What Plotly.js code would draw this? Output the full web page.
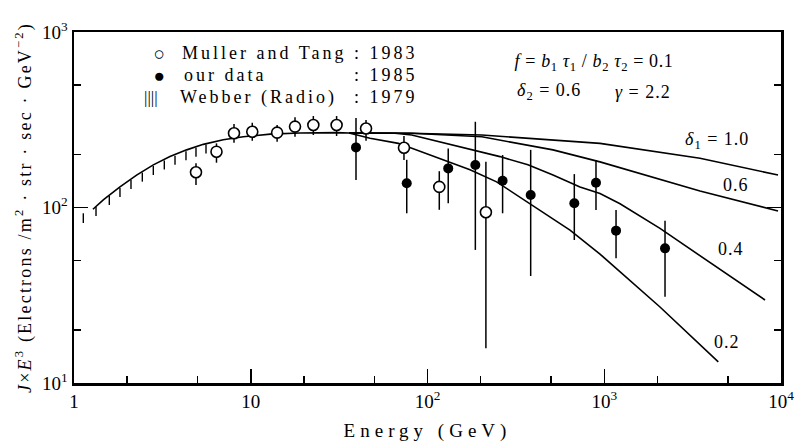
<!DOCTYPE html>
<html><head><meta charset="utf-8">
<script src="https://cdn.plot.ly/plotly-3.0.1.min.js"></script>
<style>
html,body{margin:0;padding:0;background:#fff;}
#chart{width:797px;height:442px;}
.annotation-text{letter-spacing:1px;}
g.annotation[data-index="1"] text, g.annotation[data-index="2"] text,
g.annotation[data-index="4"] text, g.annotation[data-index="5"] text,
g.annotation[data-index="7"] text, g.annotation[data-index="8"] text {letter-spacing:3px;}
g.annotation[data-index="0"] text, g.annotation[data-index="3"] text,
g.annotation[data-index="6"] text {letter-spacing:0px;}
g.annotation[data-index="9"] text {letter-spacing:0.6px;}
.xtitle{letter-spacing:5px;}
.ytitle{letter-spacing:2.2px;}
</style></head><body><div id="chart"></div>
<script>
// Muller and Tang 1983 (open circles)
const mullerE  = [4.9, 6.4, 8.04, 10.2, 14.1, 17.8, 22.6, 30.6, 44.9, 73.6, 116.6, 214];
const mullerJ  = [158.7, 208, 265, 270, 267, 289, 295, 295, 282, 219, 131, 94];
const mullerHi = [178.6, 232, 299, 304, 295, 327, 332, 332, 315, 255.5, 161, 182];
const mullerLo = [134.3, 180, 234, 240, 237, 253, 259, 255.5, 240, 186.6, 97, 15.8];
// our data 1985 (filled circles)
const ourE  = [39.4, 76.3, 131, 186.5, 266, 383.5, 677, 898, 1166, 2207];
const ourJ  = [220, 137.4, 167, 174.6, 142, 117.8, 105.7, 138.3, 73.8, 58.5];
const ourHi = [324, 187, 217, 308, 199, 213, 155, 186.6, 96.8, 84.1];
const ourLo = [143.6, 92.7, 105.7, 57.3, 92.7, 40.7, 65.3, 96.8, 51.3, 31];
// Webber (Radio) 1979 hatch marks: top and bottom of each tick
const webberE   = [1.129, 1.332, 1.584, 1.820, 2.101, 2.435, 2.810, 3.243, 3.728, 4.301, 4.900, 5.582];
const webberTop = [92.7, 100.7, 116.3, 129.2, 143.4, 158.1, 172.4, 185.3, 197.3, 209, 218.9, 228.8];
const webberBot = [81.6, 89.4, 103.3, 114.8, 127.5, 140.4, 153.2, 164.7, 175.4, 185.8, 194.5, 203.4];
// model curves
const mainE = [1.28, 1.47, 1.82, 2.26, 2.81, 3.49, 4.34, 5.39, 6.99, 9.07, 12.9, 19.0, 30.6, 36];
const mainJ = [97.7, 111, 131, 153, 175, 195, 213, 229, 243, 253, 262, 266, 267, 266];
const d10E = [36, 80, 203, 946, 3480, 9620];
const d10J = [266, 265, 259, 232, 191, 153];
const d06E = [36, 81, 203, 513, 946, 3480, 9620];
const d06J = [266, 265, 253, 213, 182, 124, 95.5];
const d04E = [36, 65.5, 81.4, 152.8, 257, 370, 513, 729, 946, 1228, 2067, 8120];
const d04J = [266, 265, 259, 222, 195, 175, 153, 131, 120, 105, 76, 29.7];
const d02E = [36, 47.3, 68.4, 123, 174, 246, 356, 640, 946, 2067, 4418];
const d02J = [266, 248, 232, 187, 164, 140, 110, 74.4, 54.3, 27.1, 13.2];
// ticks
const xTickVals = [1, 10, 100, 1000, 10000];
const xTickText = ['1', '10', '10<sup>2</sup>', '10<sup>3</sup>', '10<sup>4</sup>'];
const xMinor = [2, 5, 20, 50, 200, 500, 2000, 5000];
const yTickVals = [10, 100, 1000];
const yTickText = ['10<sup>1</sup>', '10<sup>2</sup>', '10<sup>3</sup>'];
const yMinor = [20, 50, 200, 500];

const FONT = '"Liberation Serif", "DejaVu Serif", serif';
const lineStyle = {color: '#000', width: 1.6};

function curve(x, y) {
  return {x: x, y: y, type: 'scatter', mode: 'lines', line: lineStyle, hoverinfo: 'skip'};
}
const wx = [], wy = [];
webberE.forEach((e, i) => { wx.push(e, e, null); wy.push(webberTop[i], webberBot[i], null); });

const traces = [
  curve(mainE, mainJ), curve(d10E, d10J), curve(d06E, d06J), curve(d04E, d04J), curve(d02E, d02J),
  {x: wx, y: wy, type: 'scatter', mode: 'lines', line: {color: '#000', width: 1.4}, connectgaps: false},
  {x: ourE, y: ourJ, type: 'scatter', mode: 'markers',
   marker: {symbol: 'circle', size: 10, color: '#000'},
   error_y: {type: 'data', symmetric: false, array: ourHi.map((h, i) => h - ourJ[i]),
             arrayminus: ourJ.map((j, i) => j - ourLo[i]), width: 0, thickness: 1.5, color: '#000'}},
  {x: mullerE, y: mullerJ, type: 'scatter', mode: 'markers',
   marker: {symbol: 'circle', size: 11, color: '#fff', line: {color: '#000', width: 1.6}},
   error_y: {type: 'data', symmetric: false, array: mullerHi.map((h, i) => h - mullerJ[i]),
             arrayminus: mullerJ.map((j, i) => j - mullerLo[i]), width: 0, thickness: 1.5, color: '#000'}}
];

const W = 707, H = 351, L = 74, T = 32;
const px = v => (v - L) / W;
const py = v => (T + H - v) / H;
function ann(text, x, y, xa, size) {
  return {text: text, xref: 'paper', yref: 'paper', x: px(x), y: py(y), xanchor: xa || 'left',
          yanchor: 'middle', showarrow: false, font: {family: FONT, size: size || 18, color: '#000'}};
}
const annotations = [
  ann('○', 159, 53, 'center', 19),
  ann('Muller and Tang', 264, 53, 'center'),
  ann(': 1983', 386, 53, 'center'),
  ann('●', 159, 75, 'center', 19),
  ann('our data', 225, 75, 'center'),
  ann(': 1985', 386, 75, 'center'),
  ann('||||', 151, 97, 'center', 17),
  ann('Webber (Radio)', 258, 97, 'center'),
  ann(': 1979', 386, 97, 'center'),
  ann('<i>f</i> = <i>b</i><sub>1</sub> <i>τ</i><sub>1</sub> / <i>b</i><sub>2</sub> <i>τ</i><sub>2</sub> = 0.1', 594, 62, 'center'),
  ann('<i>δ</i><sub>2</sub> = 0.6', 515, 92),
  ann('<i>γ</i> = 2.2', 613, 92),
  ann('<i>δ</i><sub>1</sub> = 1.0', 683, 140),
  ann('0.6', 736, 185, 'center'),
  ann('0.4', 731, 249, 'center'),
  ann('0.2', 727, 342, 'center')
];

const layout = {
  width: 797, height: 442,
  margin: {l: 74, r: 16, t: 32, b: 59},
  paper_bgcolor: '#fff', plot_bgcolor: '#fff',
  showlegend: false,
  font: {family: FONT, color: '#000', size: 18},
  xaxis: {type: 'log', range: [0, 4], tickmode: 'array', tickvals: xTickVals, ticktext: xTickText,
          ticks: 'inside', ticklen: 14, tickwidth: 1.5, tickcolor: '#000',
          showline: true, linewidth: 2.5, linecolor: '#000', mirror: true,
          showgrid: false, zeroline: false, tickfont: {family: FONT, size: 19},
          minor: {tickmode: 'array', tickvals: xMinor, ticks: 'inside', ticklen: 7, tickwidth: 1.5, tickcolor: '#000', showgrid: false},
          title: {text: 'Energy (GeV)', font: {family: FONT, size: 19}, standoff: 13}},
  yaxis: {type: 'log', range: [1, 3], tickmode: 'array', tickvals: yTickVals, ticktext: yTickText,
          ticks: 'inside', ticklen: 14, tickwidth: 1.5, tickcolor: '#000',
          showline: true, linewidth: 2.5, linecolor: '#000', mirror: 'ticks',
          showgrid: false, zeroline: false, tickfont: {family: FONT, size: 19},
          minor: {tickmode: 'array', tickvals: yMinor, ticks: 'inside', ticklen: 7, tickwidth: 1.5, tickcolor: '#000', showgrid: false},
          title: {text: '<i>J</i>×<i>E</i><sup>3</sup> (Electrons /m<sup>2</sup> · str · sec · GeV<sup>−2</sup>)',
                  font: {family: FONT, size: 18}, standoff: 6}},
  annotations: annotations
};

Plotly.newPlot('chart', traces, layout, {staticPlot: true, displayModeBar: false});
</script></body></html>
